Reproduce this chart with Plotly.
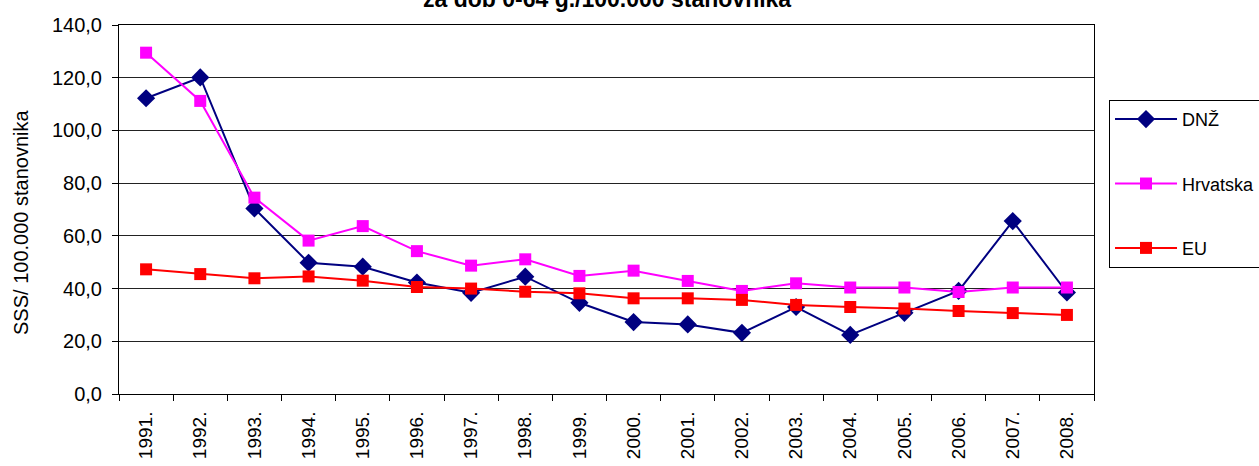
import plotly.graph_objects as go

years = ["1991.", "1992.", "1993.", "1994.", "1995.", "1996.", "1997.", "1998.", "1999.",
         "2000.", "2001.", "2002.", "2003.", "2004.", "2005.", "2006.", "2007.", "2008."]
dnz = [112.2, 120.1, 70.4, 49.8, 48.3, 42.3, 38.4, 44.5, 34.6,
       27.3, 26.4, 23.2, 33.0, 22.4, 30.8, 39.1, 65.6, 38.5]
hrvatska = [129.5, 111.2, 74.5, 58.2, 63.7, 54.2, 48.7, 51.1, 44.8,
            46.8, 42.9, 39.1, 42.0, 40.4, 40.4, 38.7, 40.4, 40.4]
eu = [47.3, 45.5, 43.9, 44.6, 43.0, 40.6, 40.0, 38.8, 38.2,
      36.3, 36.3, 35.7, 33.8, 33.0, 32.4, 31.5, 30.7, 30.0]

title_text = "za dob 0-64 g./100.000 stanovnika"
y_title = "SSS/ 100.000 stanovnika"
FONT = "Arial, Liberation Sans, sans-serif"

fig = go.Figure()
fig.add_trace(go.Scatter(x=years, y=dnz, name="DNŽ", mode="lines+markers",
                         line=dict(color="#000080", width=2),
                         marker=dict(symbol="diamond", size=14, color="#000080"),
                         legendgroup="a"))
fig.add_trace(go.Scatter(x=years, y=hrvatska, name="Hrvatska", mode="lines+markers",
                         line=dict(color="#FF00FF", width=2),
                         marker=dict(symbol="square", size=12, color="#FF00FF"),
                         legendgroup="b"))
fig.add_trace(go.Scatter(x=years, y=eu, name="EU", mode="lines+markers",
                         line=dict(color="#FF0000", width=2),
                         marker=dict(symbol="square", size=12, color="#FF0000"),
                         legendgroup="c"))

fig.update_layout(
    width=1259, height=466,
    margin=dict(l=119, r=165, t=25, b=72, autoexpand=False),
    paper_bgcolor="white", plot_bgcolor="white",
    separators=", ",
    font=dict(family=FONT, size=18, color="black"),
    showlegend=True,
    legend=dict(x=1.0154, xanchor="left", y=0.797, yanchor="top",
                bordercolor="black", borderwidth=1, bgcolor="white",
                font=dict(size=18), tracegroupgap=38, itemwidth=62,
                traceorder="grouped"),
    annotations=[
        dict(text="<b>" + title_text + "</b>", xref="paper", yref="paper",
             x=0.5, y=1.0705, xanchor="center", yanchor="middle",
             showarrow=False, font=dict(size=23, family=FONT, color="black")),
        dict(text=y_title, xref="paper", yref="paper", textangle=-90,
             x=(21 - 119) / 975, y=1 - (223 - 25) / 369,
             xanchor="center", yanchor="middle", showarrow=False,
             font=dict(size=20, family=FONT, color="black")),
    ],
)

fig.update_xaxes(type="category", range=[-0.5, len(years) - 0.5], showgrid=False,
                 showline=True, linecolor="black",
                 linewidth=1, mirror=True, ticks="outside", ticklen=6, tickcolor="black",
                 tickson="boundaries", tickangle=-90, tickfont=dict(size=19),
                 ticklabelstandoff=9)
fig.update_yaxes(range=[0, 140], dtick=20, tickformat=".1f", showgrid=True,
                 gridcolor="#222222", gridwidth=1, showline=True, linecolor="black",
                 linewidth=1, mirror=True, ticks="outside", ticklen=6, tickcolor="black",
                 tickfont=dict(size=20), ticklabelstandoff=6, zeroline=False)

fig.write_html("out.html", config={"displayModeBar": False},
               post_script="document.body.style.margin='0';document.body.style.overflow='hidden';")
